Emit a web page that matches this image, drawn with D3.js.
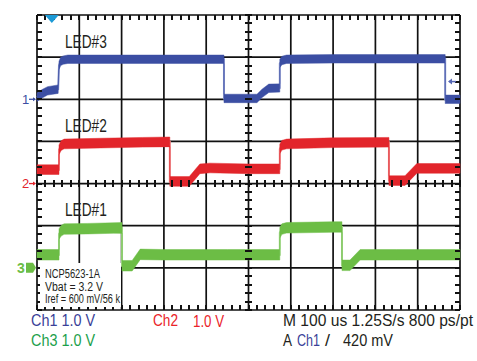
<!DOCTYPE html>
<html><head><meta charset="utf-8">
<script src="https://cdn.jsdelivr.net/npm/d3@7"></script>
<style>
html,body{margin:0;padding:0;background:#fff;}
svg{display:block;}
text{font-family:"Liberation Sans Narrow","Arial Narrow","Liberation Sans",Arial,sans-serif;}
</style></head>
<body>
<svg id="c" width="477" height="361"></svg>
<script>
// ---- data (time in us, volts relative to channel ground) ----
const ch1Time = [0, 12, 25, 50, 52, 56, 62, 73, 200, 300, 442, 442, 520, 532, 548, 574, 574, 579, 590, 700, 850, 965, 965, 1000];
const ch1Volt = [0.05, 0.13, 0.2, 0.24, 0.8, 0.9, 0.93, 0.95, 0.95, 0.95, 0.95, 0.02, 0.02, 0.14, 0.26, 0.27, 0.85, 0.92, 0.95, 0.96, 0.96, 0.96, 0.0, 0.0];
const ch2Time = [0, 52, 52, 57, 64, 150, 250, 314, 314, 360, 385, 409, 500, 574, 574, 579, 590, 700, 832, 832, 870, 898, 950, 1000];
const ch2Volt = [0.33, 0.33, 0.8, 0.9, 0.94, 0.96, 0.98, 0.99, 0.05, 0.05, 0.35, 0.37, 0.35, 0.35, 0.82, 0.91, 0.94, 0.97, 0.98, 0.07, 0.07, 0.36, 0.36, 0.36];
const ch3Time = [0, 52, 52, 57, 64, 120, 201, 201, 225, 244, 300, 450, 574, 574, 579, 590, 700, 721, 721, 740, 764, 850, 1000];
const ch3Volt = [0.31, 0.31, 0.8, 0.88, 0.92, 0.93, 0.95, 0.05, 0.05, 0.32, 0.31, 0.31, 0.31, 0.83, 0.92, 0.95, 0.97, 0.97, 0.06, 0.06, 0.31, 0.31, 0.31];
const channelNames = ["Ch1", "Ch2", "Ch3"];
const channelScale = ["1.0 V", "1.0 V", "1.0 V"];
const channelGroundDiv = [5, 3, 1];           // ground position, divisions from bottom
const ledLabels = ["LED#3", "LED#2", "LED#1"];
const noteLines = ["NCP5623-1A", "Vbat = 3.2 V", "Iref = 600 mV/56 k"];
const timeDomain = [0, 1000];                 // 100 us/div, 10 div
const divDomain = [0, 7];                     // 1 V/div, 7 div shown
const triggerTime = 35;
const triggerLevel = 0.42;                    // V on Ch1
const timebaseText = "M 100 us 1.25S/s   800 ps/pt";
const triggerText = ["A", "Ch1", "/", "420 mV"];

// ---- layout / style ----
const L = 37, R = 460, T = 15, B = 310;
const colors = {blue:"#3b4ea3", red:"#e2252b", green:"#6cbd45",
  tBlue:"#3a3f98", tRed:"#ea2329", tGreen:"#1c9f4b", trig:"#1c9ad6"};
const traceColor = [colors.blue, colors.red, colors.green];
const edgeColor = ["#8f9ad0", "#f08a8c", "#a9da92"];
const halfBand = [0.1, 0.115, 0.125];

const svg = d3.select("#c");
const x = d3.scaleLinear().domain(timeDomain).range([L, R]);
const y = d3.scaleLinear().domain(divDomain).range([B, T]);

// grid
const majorX = d3.range(0, 1001, 100), majorY = d3.range(0, 8, 1);
svg.append("g").selectAll("line").data(majorX).join("line")
  .attr("x1", d => x(d)).attr("x2", d => x(d)).attr("y1", T).attr("y2", B)
  .attr("stroke", "#111").attr("stroke-width", 1.7);
svg.append("g").selectAll("line").data(majorY).join("line")
  .attr("y1", d => y(d)).attr("y2", d => y(d)).attr("x1", L).attr("x2", R)
  .attr("stroke", "#111").attr("stroke-width", 1.7);

// traces
const series = [[ch1Time, ch1Volt], [ch2Time, ch2Volt], [ch3Time, ch3Volt]];
series.forEach(([ts, vs], i) => {
  const pts = ts.map((t, k) => ({t, v: vs[k]}));
  const off = channelGroundDiv[i];
  svg.append("path").datum(pts)
    .attr("d", d3.line().x(d => x(d.t)).y(d => y(off + d.v)))
    .attr("fill", "none").attr("stroke", edgeColor[i]).attr("stroke-width", 2);
  svg.append("path").datum(pts)
    .attr("d", d3.area().x(d => x(d.t)).y0(d => y(off + d.v - halfBand[i])).y1(d => y(off + d.v + halfBand[i])))
    .attr("fill", traceColor[i]).attr("stroke", traceColor[i]).attr("stroke-width", 0.8).attr("stroke-opacity", 0.6);
});

// minor ticks (on borders and centre lines)
const minorX = d3.range(0, 1001, 20), minorY = d3.range(0, 7.001, 0.2);
const tickLayer = svg.append("g").attr("shape-rendering", "crispEdges");
function hTicks(yy, up, down){
  tickLayer.append("g").selectAll("line").data(minorX).join("line")
   .attr("x1", d => Math.round(x(d))).attr("x2", d => Math.round(x(d)))
   .attr("y1", yy - up).attr("y2", yy + down)
   .attr("stroke", "#111").attr("stroke-width", 1.5);
}
function vTicks(xx, left, right){
  tickLayer.append("g").selectAll("line").data(minorY).join("line")
   .attr("y1", d => Math.round(y(d))).attr("y2", d => Math.round(y(d)))
   .attr("x1", xx - left).attr("x2", xx + right)
   .attr("stroke", "#111").attr("stroke-width", 1.5);
}
hTicks(T, 0, 5); hTicks(B, 5, 0); hTicks(y(3), 3.5, 3.5);
vTicks(L, 0, 5); vTicks(R, 5, 0); vTicks(x(500), 3.5, 3.5);

// LED labels
ledLabels.forEach((s, i) => {
  svg.append("text").attr("x", x(66)).attr("y", y(channelGroundDiv[i] + 1.22))
    .attr("font-size", 19).attr("fill", "#231f20")
    .attr("textLength", 42).attr("lengthAdjust", "spacingAndGlyphs").text(s);
});

// note box
svg.append("rect").attr("x", 40).attr("y", 263).attr("width", 81).attr("height", 44).attr("fill", "#fff");
const noteLen = [55, 58, 75];
noteLines.forEach((s, i) => {
  svg.append("text").attr("x", 45).attr("y", 278 + i * 12.5).attr("font-size", 12)
    .attr("fill", "#231f20").attr("textLength", noteLen[i]).attr("lengthAdjust", "spacingAndGlyphs").text(s);
});

// ground markers
channelGroundDiv.forEach((dv, i) => {
  const yy = y(dv);
  const col = [colors.blue, colors.red, colors.green][i];
  if (i < 2) {
    svg.append("text").attr("x", 22).attr("y", yy + 4.5).attr("font-size", 13)
      .attr("fill", col).text(String(i + 1));
    svg.append("line").attr("x1", 29).attr("x2", 35).attr("y1", yy).attr("y2", yy)
      .attr("stroke", col).attr("stroke-width", 1.3);
    svg.append("path").attr("d", `M${36},${yy} l-3,-2 v4 z`).attr("fill", col);
  } else {
    svg.append("text").attr("x", 17).attr("y", yy + 5).attr("font-size", 14).attr("font-weight", "bold")
      .attr("fill", col).text("3");
    svg.append("path").attr("d", `M26,${yy-5} h7 l3,5 l-3,5 h-7 z`).attr("fill", col);
  }
});

// trigger position marker
const tx = x(triggerTime);
svg.append("path").attr("d", `M${tx-7},${T} h14 l-7,8 z`).attr("fill", colors.trig);
// trigger level marker
const ty = y(channelGroundDiv[0] + triggerLevel);
svg.append("line").attr("x1", 449).attr("x2", 456).attr("y1", ty).attr("y2", ty)
  .attr("stroke", "#5566b4").attr("stroke-width", 1.5);
svg.append("path").attr("d", `M448,${ty} l4,-3 v6 z`).attr("fill", "#5566b4");

// bottom readouts
const fs = 16;
function txt(xx, yy, s, col, len){
  const t = svg.append("text").attr("x", xx).attr("y", yy).attr("font-size", fs).attr("fill", col).text(s);
  if (len) t.attr("textLength", len).attr("lengthAdjust", "spacingAndGlyphs");
  return t;
}
txt(31, 326, channelNames[0] + " " + channelScale[0], colors.tBlue, 64);
txt(153, 326, channelNames[1], colors.tRed, 25);
txt(193, 327, channelScale[1], colors.tRed, 31);
txt(283, 326, timebaseText, "#231f20", 190);
txt(31, 346, channelNames[2] + " " + channelScale[2], colors.tGreen, 64);
txt(283, 346, triggerText[0], "#231f20", 9);
txt(297, 346, triggerText[1], colors.tBlue, 23);
txt(325, 346, triggerText[2], "#231f20", 5);
txt(343, 346, triggerText[3], "#231f20", 50);
</script>
</body></html>
